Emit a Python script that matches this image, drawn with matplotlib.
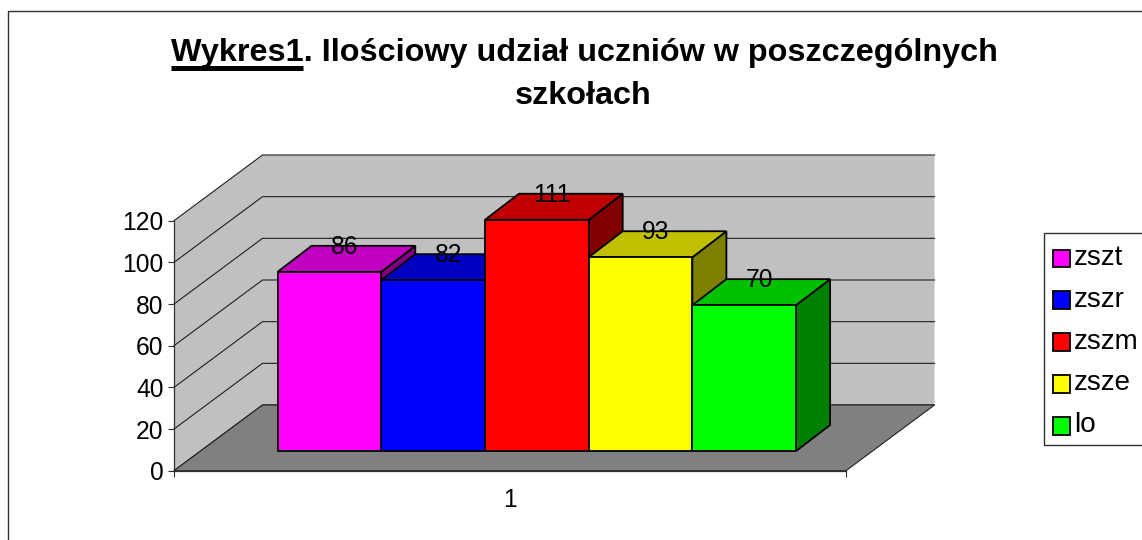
import matplotlib
matplotlib.use("Agg")
import matplotlib.pyplot as plt
from matplotlib.lines import Line2D
from matplotlib.patches import Patch, Polygon

plt.rcParams['font.family'] = ['Liberation Sans', 'DejaVu Sans']

# data
schools = ['zszt', 'zszr', 'zszm', 'zsze', 'lo']
students = [86, 82, 111, 93, 70]
category = ['1']
value_ticks = [0, 20, 40, 60, 80, 100, 120]

front_colors = ['#FF00FF', '#0000FF', '#FF0000', '#FFFF00', '#00FF00']
top_colors = ['#C000C0', '#0000C0', '#C00000', '#C0C000', '#00C000']
side_colors = ['#800080', '#000080', '#800000', '#808000', '#008000']

W, H = 1142, 540
LEFT, RIGHT = 174, 846
Y0, Y120 = 470.7, 220.7
PX_X = 1 / (RIGHT - LEFT)         # axis units per pixel
PX_Y = 120 / (Y0 - Y120)

# oblique offsets of the 3d look
BACK_DX, BACK_DY = 88.5 * PX_X, 65.7 * PX_Y
BAR_DX, BAR_DY = 34 * PX_X, 26 * PX_Y
BAR_LEFT = 103.6 * PX_X
BAR_W = 103.7 * PX_X
BAR_BASE = 19.7 * PX_Y
FONT = 17.7
LEGEND_FONT = 20
TITLE_FONT = 23.3


def fx(px):
    return px / W


def fy(py):
    return 1 - py / H


def draw_walls(ax):
    top = value_ticks[-1]
    ax.add_patch(Polygon([(0, 0), (BACK_DX, BACK_DY), (1 + BACK_DX, BACK_DY),
                          (1 + BACK_DX, top + BACK_DY), (BACK_DX, top + BACK_DY), (0, top)],
                         fc='#C0C0C0', ec='none', clip_on=False, zorder=1))
    for v in value_ticks:
        ax.plot([0, BACK_DX, 1 + BACK_DX], [v, v + BACK_DY, v + BACK_DY],
                color='#202020', lw=0.8, clip_on=False, zorder=2)
    ax.add_patch(Polygon([(0, 0), (1, 0), (1 + BACK_DX, BACK_DY), (BACK_DX, BACK_DY)],
                         fc='#808080', ec='#202020', lw=0.8, clip_on=False, zorder=3))


def draw_bar(ax, i):
    x0 = BAR_LEFT + i * BAR_W
    x1 = x0 + BAR_W
    base = BAR_BASE
    top = base + students[i]
    z = 4 + i
    style = dict(ec='black', lw=1.3, joinstyle='miter', clip_on=False, zorder=z)
    ax.add_patch(Polygon([(x1, base), (x1 + BAR_DX, base + BAR_DY),
                          (x1 + BAR_DX, top + BAR_DY), (x1, top)], fc=side_colors[i], **style))
    ax.add_patch(Polygon([(x0, top), (x1, top), (x1 + BAR_DX, top + BAR_DY),
                          (x0 + BAR_DX, top + BAR_DY)], fc=top_colors[i], **style))
    ax.add_patch(Polygon([(x0, base), (x1, base), (x1, top), (x0, top)], fc=front_colors[i], **style))
    ax.text(x0 + BAR_W / 2 + 15 * PX_X, top + BAR_DY - 0.5, str(students[i]), fontsize=FONT,
            ha='center', va='center', color='black', clip_on=False, zorder=20)


def draw_title(fig):
    line1 = 'Wykres1. Ilościowy udział uczniów w poszczególnych'
    t = fig.text(fx(584), fy(52.5), line1, fontsize=TITLE_FONT, fontweight='bold', ha='center', va='center')
    fig.text(fx(583), fy(96), 'szkołach', fontsize=TITLE_FONT, fontweight='bold', ha='center', va='center')
    # underline only under the first word
    r = fig.canvas.get_renderer()
    box = t.get_window_extent(r)
    tmp = fig.text(0, 0, 'Wykres1', fontsize=TITLE_FONT, fontweight='bold')
    w = tmp.get_window_extent(r).width
    tmp.remove()
    fig.add_artist(Line2D([box.x0 / W, (box.x0 + w) / W], [fy(67.5), fy(67.5)], color='black',
                          lw=3.6, solid_capstyle='butt'))


def main():
    fig = plt.figure(figsize=(W / 100, H / 100), dpi=100, facecolor='white')
    ax = fig.add_axes([fx(LEFT), fy(Y0), fx(RIGHT - LEFT), (Y0 - Y120) / H])
    ax.set_xlim(0, 1)
    ax.set_ylim(0, 120)
    ax.patch.set_visible(False)
    for s in ['top', 'right']:
        ax.spines[s].set_visible(False)
    for s in ['left', 'bottom']:
        ax.spines[s].set_color('#303030')
        ax.spines[s].set_linewidth(0.9)
        ax.spines[s].set_zorder(30)

    ax.set_yticks(value_ticks)
    ax.set_xticks([0, 1], ['', ''])
    ax.set_xticks([0.5], category, minor=True)
    ax.tick_params(axis='both', which='major', length=4.5, width=0.8, color='#303030', labelsize=FONT, pad=3)
    ax.tick_params(axis='x', which='minor', length=0, labelsize=FONT, pad=12.5)

    draw_walls(ax)
    for i in range(len(students)):
        draw_bar(ax, i)

    # chart frame, right and bottom edges run off the picture
    fig.add_artist(Line2D([fx(8), fx(8), 1], [0, fy(11), fy(11)], color='#303030', lw=1.0))

    # legend box is open to the right edge too, so drawn separately
    fig.add_artist(Line2D([1, fx(1044), fx(1044), 1], [fy(233), fy(233), fy(445), fy(445)],
                          color='#303030', lw=1.0))
    handles = [Patch(fc=c, ec='black', lw=1.3) for c in front_colors]
    leg = ax.legend(handles, schools, loc='upper left', bbox_to_anchor=(fx(1044), fy(236)),
                    bbox_transform=fig.transFigure, borderaxespad=0, frameon=False, fontsize=LEGEND_FONT,
                    handlelength=0.61, handleheight=0.61, handletextpad=0.16, labelspacing=0.57, borderpad=0.32)
    # swatches sit a little below the text baseline
    for h in leg.legend_handles:
        h.set_y(h.get_y() - 2.4)

    draw_title(fig)
    fig.savefig('out.png', dpi=100)


if __name__ == "__main__":
    main()
